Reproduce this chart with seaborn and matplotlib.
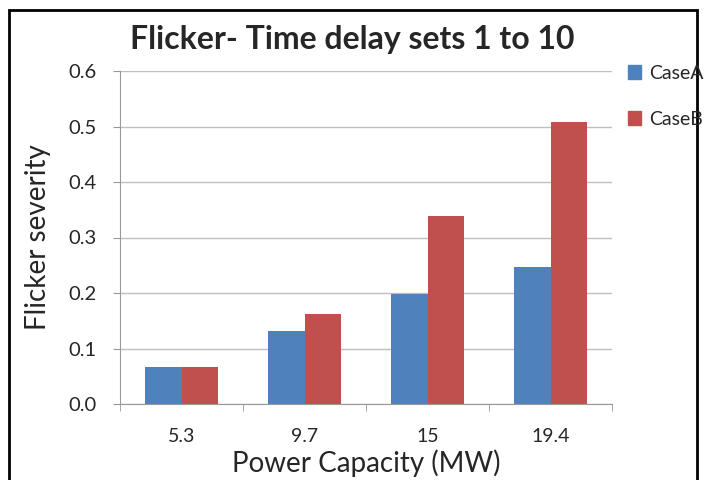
import matplotlib
matplotlib.use("Agg")
import matplotlib.pyplot as plt
import matplotlib.patches as mpatches
import seaborn as sns
import pandas as pd

capacities = ["5.3", "9.7", "15", "19.4"]
case_a = [0.067, 0.131, 0.198, 0.247]
case_b = [0.067, 0.162, 0.339, 0.509]
series_names = ["CaseA", "CaseB"]
colors = ["#4F81BD", "#C0504D"]

df = pd.DataFrame({
    "capacity": capacities * 2,
    "severity": case_a + case_b,
    "case": [series_names[0]] * 4 + [series_names[1]] * 4,
})

sns.set_style("white")
plt.rcParams["font.family"] = ["Lato", "DejaVu Sans"]

fig = plt.figure(figsize=(7.04, 4.8), dpi=100)
ax = fig.add_axes([120 / 704, 1 - 404 / 480, (612 - 120) / 704, (404 - 71) / 480])

sns.barplot(data=df, x="capacity", y="severity", hue="case", palette=colors,
            width=0.59, saturation=1, linewidth=0, ax=ax, legend=False)

ax.set_ylim(0, 0.6)
ax.set_yticks([i / 10 for i in range(7)])
ax.set_yticklabels([f"{i / 10:.1f}" for i in range(7)])
ax.yaxis.grid(True, color="#BFBFBF", linewidth=1)
ax.set_axisbelow(True)
for side in ["top", "right"]:
    ax.spines[side].set_visible(False)
for side in ["left", "bottom"]:
    ax.spines[side].set_color("#999999")
# category boundary ticks on the x axis
ax.set_xticks([-0.5, 0.5, 1.5, 2.5, 3.5], minor=True)
ax.tick_params(axis="x", which="major", length=0, pad=17, labelsize=14)
ax.tick_params(axis="x", which="minor", length=5, color="#999999", direction="out", bottom=True)
ax.tick_params(axis="y", length=5, color="#999999", direction="out", left=True, labelsize=14.5, pad=12)
ax.set_xlim(-0.5, 3.5)

ax.set_xlabel("Power Capacity (MW)", fontsize=20, labelpad=3.5)
ax.set_ylabel("Flicker severity", fontsize=20, labelpad=12)
fig.suptitle("Flicker- Time delay sets 1 to 10", fontsize=23, fontweight="bold", y=0.948)

handles = [mpatches.Patch(color=c, label=n) for c, n in zip(colors, series_names)]
fig.legend(handles=handles, loc="upper left", bbox_to_anchor=(614 / 704, 1 - 51 / 480),
           frameon=False, fontsize=14, handlelength=0.7, handleheight=0.7,
           handletextpad=0.4, labelspacing=1.5, borderpad=0.2)

border = mpatches.Rectangle((9 / 704, -0.05), (697 - 9) / 704, 0.05 + 1 - 10 / 480,
                            transform=fig.transFigure, fill=False, edgecolor="black",
                            linewidth=2, clip_on=False)
fig.patches.append(border)

fig.savefig("out.png", dpi=100)
